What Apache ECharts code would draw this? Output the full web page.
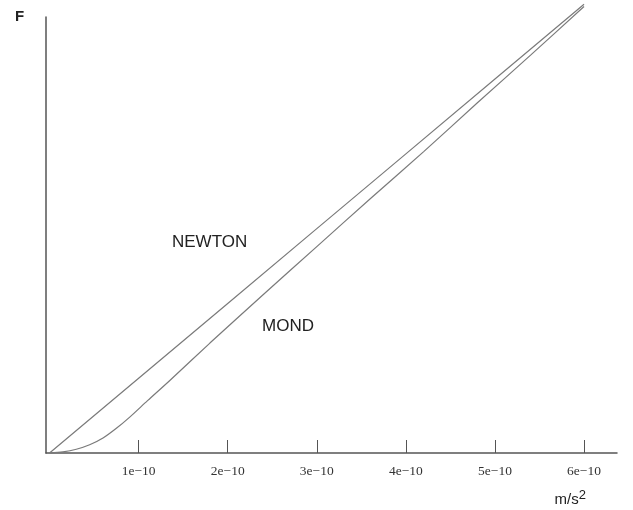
<!DOCTYPE html>
<html>
<head>
<meta charset="utf-8">
<script src="https://cdn.jsdelivr.net/npm/echarts@6/dist/echarts.min.js"></script>
<style>
html,body{margin:0;padding:0;background:#fff;}
#chart{width:633px;height:510px;}
</style>
</head>
<body>
<div id="chart"></div>
<script>
// acceleration in units of 1e-10 m/s^2, force in arbitrary units
var tickValues = [1, 2, 3, 4, 5, 6];
var tickLabels = ['1e\u221210', '2e\u221210', '3e\u221210', '4e\u221210', '5e\u221210', '6e\u221210'];
var newtonA = [0, 1, 2, 3, 4, 5, 6];
var newtonF = [0, 1, 2, 3, 4, 5, 6];
var mondA = [0, 0.15, 0.3, 0.45, 0.6, 0.75, 0.9, 1.1, 1.35, 1.8, 2.4, 3.0, 3.6, 4.2, 4.8, 5.4, 6.0];
var mondF = [0, 0.015, 0.05, 0.11, 0.2, 0.33, 0.48, 0.7, 0.97, 1.47, 2.12, 2.76, 3.4, 4.03, 4.68, 5.32, 5.97];

function pairs(xs, ys) { return xs.map(function (x, i) { return [x, ys[i]]; }); }

var chart = echarts.init(document.getElementById('chart'), null, { renderer: 'canvas' });
chart.setOption({
  animation: false,
  backgroundColor: '#ffffff',
  grid: { left: 46, right: 16, top: 17, bottom: 57 },
  xAxis: {
    type: 'value', min: -0.04, max: 6.37,
    axisLine: { show: true, onZero: false, lineStyle: { color: '#555', width: 1.5 } },
    axisTick: { show: true, inside: true, length: 13, customValues: tickValues, lineStyle: { color: '#555', width: 1 } },
    axisLabel: {
      customValues: tickValues, margin: 11,
      fontFamily: 'Liberation Serif', fontSize: 13.5, color: '#333',
      formatter: function (v) { var i = tickValues.indexOf(Math.round(v)); return i >= 0 ? tickLabels[i] : ''; }
    },
    splitLine: { show: false },
    name: '{b|m/s}{s|2}', nameLocation: 'end',
    nameTextStyle: {
      rich: {
        b: { fontFamily: 'Liberation Sans', fontSize: 15, color: '#222' },
        s: { fontFamily: 'Liberation Sans', fontSize: 13, color: '#222', verticalAlign: 'top', padding: [0, 0, 8, 0] }
      },
      align: 'right', verticalAlign: 'top', padding: [36, 46, 0, 0]
    }
  },
  yAxis: {
    type: 'value', min: 0, max: 5.83,
    axisLine: { show: true, onZero: false, lineStyle: { color: '#555', width: 1.5 } },
    axisTick: { show: false }, axisLabel: { show: false }, splitLine: { show: false }
  },
  graphic: [
    { type: 'text', left: 15, top: 9, style: { text: 'F', font: 'bold 15px "Liberation Sans"', fill: '#222' } },
    { type: 'text', left: 172, top: 234, style: { text: 'NEWTON', font: '17px "Liberation Sans"', fill: '#222' } },
    { type: 'text', left: 262, top: 318, style: { text: 'MOND', font: '17px "Liberation Sans"', fill: '#222' } }
  ],
  series: [
    { name: 'NEWTON', type: 'line', data: pairs(newtonA, newtonF), showSymbol: false, clip: false,
      lineStyle: { color: '#7a7a7a', width: 1.2 } },
    { name: 'MOND', type: 'line', data: pairs(mondA, mondF), showSymbol: false, clip: false, smooth: 0.3,
      lineStyle: { color: '#7a7a7a', width: 1.2 } }
  ]
});
</script>
</body>
</html>
